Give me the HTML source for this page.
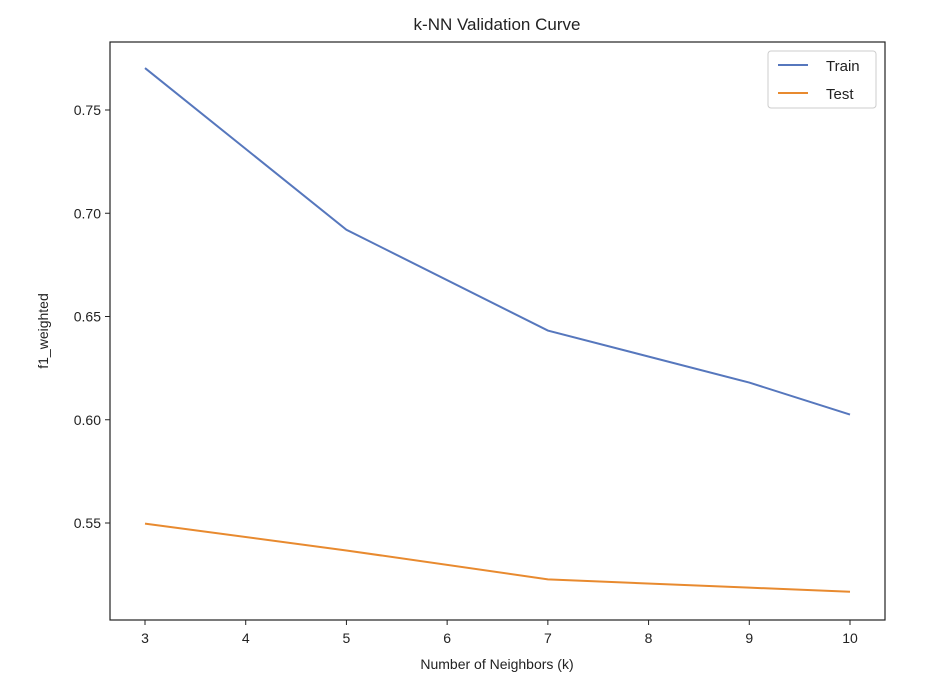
<!DOCTYPE html>
<html><head><meta charset="utf-8"><style>
body{margin:0;background:#fff;font-family:"Liberation Sans","DejaVu Sans",sans-serif}
</style></head><body>
<svg id="chart" width="952" height="692" font-family="Liberation Sans, DejaVu Sans, sans-serif">
<rect width="952" height="692" fill="#fff"/>
<text x="497" y="30" font-size="17" text-anchor="middle" fill="#222">k-NN Validation Curve</text>
<g id="ticks"></g>
<g id="lines"></g>
<rect x="110" y="42" width="775" height="578" fill="none" stroke="#222" stroke-width="1.2"/>
<text x="497" y="669" font-size="14" text-anchor="middle" fill="#222">Number of Neighbors (k)</text>
<text transform="translate(48,331) rotate(-90)" font-size="14" text-anchor="middle" fill="#222">f1_weighted</text>
<g>
<rect x="768" y="51" width="108" height="57" rx="3" fill="#fff" stroke="#ccc"/>
<line x1="778" y1="65" x2="808" y2="65" stroke="#5677bd" stroke-width="2"/>
<text x="826" y="71" font-size="15" fill="#222">Train</text>
<line x1="778" y1="93" x2="808" y2="93" stroke="#e88a2f" stroke-width="2"/>
<text x="826" y="99" font-size="15" fill="#222">Test</text>
</g>
</svg>
<script>
const kValues=[3,5,7,9,10];
const trainScores=[0.7703,0.692,0.6432,0.618,0.6025];
const testScores=[0.5497,0.5367,0.5227,0.5187,0.5167];
const xTicks=[3,4,5,6,7,8,9,10];
const yTicks=[0.55,0.60,0.65,0.70,0.75];
const NS="http://www.w3.org/2000/svg";
function xs(v){return 145+(v-3)*(850-145)/7;}
function ys(v){return 110+(0.75-v)*2065;}
const tg=document.getElementById('ticks');
xTicks.forEach(t=>{
 const l=document.createElementNS(NS,'line');
 l.setAttribute('x1',xs(t));l.setAttribute('x2',xs(t));l.setAttribute('y1',620);l.setAttribute('y2',625);l.setAttribute('stroke','#222');
 
 
 tg.appendChild(l);
 const tx=document.createElementNS(NS,'text');
 tx.setAttribute('x',xs(t));tx.setAttribute('y',643);tx.setAttribute('font-size','14');tx.setAttribute('text-anchor','middle');tx.setAttribute('fill','#222');
 tx.textContent=t;
 
 
 tg.appendChild(tx);
});
yTicks.forEach(t=>{
 const l=document.createElementNS(NS,'line');
 l.setAttribute('x1',105);l.setAttribute('x2',110);l.setAttribute('y1',ys(t));l.setAttribute('y2',ys(t));l.setAttribute('stroke','#222');
 
 
 tg.appendChild(l);
 const tx=document.createElementNS(NS,'text');
 tx.setAttribute('x',101);tx.setAttribute('y',ys(t)+5);tx.setAttribute('font-size','14');tx.setAttribute('text-anchor','end');tx.setAttribute('fill','#222');
 tx.textContent=t.toFixed(2);
 
 
 tg.appendChild(tx);
});
const lg=document.getElementById('lines');
[[trainScores,'#5677bd','train-line'],[testScores,'#e88a2f','test-line']].forEach(([vals,c,n])=>{
 const p=document.createElementNS(NS,'polyline');
 p.setAttribute('points',kValues.map((k,i)=>xs(k)+','+ys(vals[i])).join(' '));
 p.setAttribute('fill','none');p.setAttribute('stroke',c);p.setAttribute('stroke-width','2');
 
 
 lg.appendChild(p);
});
</script>
</body></html>
